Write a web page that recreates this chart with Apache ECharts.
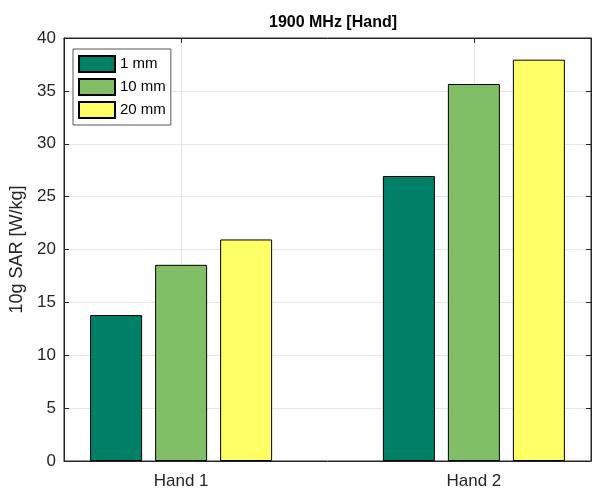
<!DOCTYPE html>
<html>
<head>
<meta charset="utf-8">
<script src="https://cdn.jsdelivr.net/npm/echarts@6/dist/echarts.min.js"></script>
<style>
html,body{margin:0;padding:0;background:#fff;}
#chart{width:597px;height:491px;}
</style>
</head>
<body>
<div id="chart"></div>
<script>
const categories = ['Hand 1', 'Hand 2'];
const seriesNames = ['1 mm', '10 mm', '20 mm'];
const values1mm = [13.8, 26.95];
const values10mm = [18.55, 35.65];
const values20mm = [20.95, 37.95];
const yTicks = [0, 5, 10, 15, 20, 25, 30, 35, 40];
const colors = ['#008066', '#80BF66', '#FFFF66'];

const allValues = [values1mm, values10mm, values20mm];
const positions = categories.map((c, i) => i + 1);
const font = 'Liberation Sans, Arial, Helvetica, sans-serif';
const axisColor = '#262626';

const chart = echarts.init(document.getElementById('chart'));
chart.setOption({
  animation: false,
  backgroundColor: '#fff',
  textStyle: { fontFamily: font },
  title: {
    text: '1900 MHz [Hand]',
    left: 328, top: 10, textAlign: 'center',
    textStyle: { fontFamily: font, fontSize: 16, fontWeight: 'bold', color: '#000' }
  },
  grid: { left: 64, right: 6, top: 38, bottom: 30, show: true, borderColor: axisColor, borderWidth: 1, backgroundColor: '#fff' },
  legend: {
    left: 73, top: 49, orient: 'vertical',
    data: seriesNames,
    itemWidth: 36, itemHeight: 16, itemGap: 5,
    padding: [6, 5, 6, 5],
    backgroundColor: '#fff', borderColor: '#555', borderWidth: 1,
    textStyle: { fontFamily: font, fontSize: 15, color: '#000' },
    icon: 'rect'
  },
  xAxis: [{
    type: 'value', min: 0.6, max: 2.4,
    axisLine: { show: true, onZero: false, lineStyle: { color: axisColor } },
    axisTick: { show: true, inside: true, length: 5, customValues: positions, lineStyle: { color: axisColor } },
    axisLabel: { customValues: positions, formatter: v => categories[Math.round(v) - 1] || '', fontSize: 17, color: '#262626', margin: 12 },
    splitLine: { show: true, lineStyle: { color: '#e6e6e6' } }
  }, {
    type: 'value', min: 0.6, max: 2.4, position: 'top',
    axisLine: { show: true, onZero: false, lineStyle: { color: axisColor } },
    axisTick: { show: true, inside: true, length: 5, customValues: positions, lineStyle: { color: axisColor } },
    axisLabel: { show: false },
    splitLine: { show: false }
  }],
  yAxis: [{
    type: 'value', min: 0, max: 40, interval: 5,
    name: '10g SAR [W/kg]', nameLocation: 'middle', nameGap: 32,
    nameTextStyle: { fontFamily: font, fontSize: 18, color: '#262626' },
    axisLine: { show: true, lineStyle: { color: axisColor } },
    axisTick: { show: true, inside: true, length: 5, lineStyle: { color: axisColor } },
    axisLabel: { fontSize: 17, color: '#262626', margin: 8, formatter: v => yTicks.includes(v) ? String(v) : '' },
    splitLine: { show: true, lineStyle: { color: '#e6e6e6' } }
  }, {
    type: 'value', min: 0, max: 40, interval: 5, position: 'right',
    axisLine: { show: true, lineStyle: { color: axisColor } },
    axisTick: { show: true, inside: true, length: 5, lineStyle: { color: axisColor } },
    axisLabel: { show: false },
    splitLine: { show: false }
  }],
  series: seriesNames.map((name, si) => ({
    name: name, type: 'bar', xAxisIndex: 0, yAxisIndex: 0,
    barWidth: 52, barGap: '25%',
    itemStyle: { color: colors[si], borderColor: '#000', borderWidth: 1 },
    data: positions.map((p, i) => [p, allValues[si][i]])
  }))
});
</script>
</body>
</html>
